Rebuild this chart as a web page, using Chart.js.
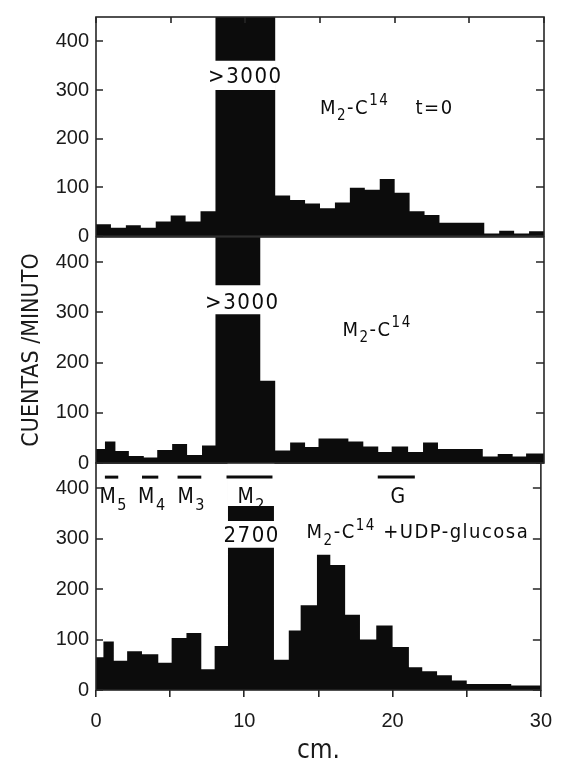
<!DOCTYPE html>
<html>
<head>
<meta charset="utf-8">
<script src="https://cdn.jsdelivr.net/npm/chart.js@4.4.1/dist/chart.umd.min.js"></script>
<style>
  body { margin: 0; background: #fff; }
  #wrap { position: relative; width: 566px; height: 767px; }
  #wrap canvas { position: absolute; left: 0; top: 0; }
</style>
</head>
<body>
<div id="wrap">
  <canvas id="t0" width="566" height="767"></canvas>
  <canvas id="m2" width="566" height="767"></canvas>
  <canvas id="udp" width="566" height="767"></canvas>
</div>
<script>
// axis ticks
const cmTicks = [0, 5, 10, 15, 20, 25, 30];
const countTicks = [0, 100, 200, 300, 400];

// M2-C14, t=0 : left edge of each slice (cm) and counts per minute
const edgesT0 = [0, 1, 2, 3, 4, 5, 6, 7, 8, 12, 13, 14, 15, 16, 17, 18, 19, 20, 21, 22, 23, 26, 27, 28, 29];
const countsT0 = [24, 17, 22, 17, 30, 42, 30, 51, 3000, 83, 74, 67, 57, 69, 99, 95, 117, 89, 51, 43, 27, 5, 11, 5, 10];

// M2-C14
const edgesM2 = [0, 0.6, 1.3, 2.2, 3.2, 4.1, 5.1, 6.1, 7.1, 8, 11, 12, 13, 14, 14.9, 16.9, 17.9, 18.9, 19.8, 20.9, 21.9, 22.9, 25.9, 26.9, 27.9, 28.8];
const countsM2 = [28, 43, 24, 14, 11, 26, 38, 16, 35, 3000, 164, 25, 41, 32, 49, 43, 33, 22, 33, 22, 41, 28, 13, 18, 13, 19];

// M2-C14 + UDP-glucosa
const edgesUdp = [0, 0.5, 1.2, 2.1, 3.1, 4.2, 5.1, 6.1, 7.1, 8, 8.9, 12, 13, 13.8, 14.9, 15.8, 16.8, 17.8, 18.9, 20, 21.1, 22, 23, 24, 25, 28];
const countsUdp = [65, 96, 58, 77, 71, 54, 103, 113, 41, 87, 2700, 60, 118, 168, 268, 248, 149, 100, 128, 85, 45, 37, 29, 19, 12, 9];

// axis breaks cut through the off-scale peaks: [fromCm, toCm, low, high]
const breaksT0 = [[8, 12, 300, 360]];
const breaksM2 = [[8, 11, 296, 354]];
const breaksUdp = [[8.9, 12, 282, 335], [8.9, 12, 365, 450]];

// reference markers above the last panel
const markerNames = ['M5', 'M4', 'M3', 'M2', 'G'];
const markerFrom = [0.6, 3.1, 5.5, 8.8, 19.0];
const markerTo = [1.5, 4.2, 7.1, 11.9, 21.5];
const markerLevel = 422;

const ink = '#0c0c0c';
const frameColor = '#262626';
const condensed = "'DejaVu Sans Condensed', 'Liberation Sans Narrow', sans-serif";
const tickFont = { family: "'Liberation Sans', Arial, sans-serif", size: 20, lineHeight: 1 };

function steps(edges, counts) {
  const pts = edges.map((e, i) => ({ x: e, y: counts[i] }));
  pts.push({ x: 30, y: counts[counts.length - 1] });
  return pts;
}

// parts: [text, 0 normal | -1 subscript | 1 superscript]
function drawRich(ctx, parts, x, y, size, align) {
  const small = Math.round(size * 0.74);
  ctx.letterSpacing = '1.5px';
  const fonts = parts.map(p => (p[1] === 0 ? size : small) + 'px ' + condensed);
  let total = 0;
  const widths = parts.map((p, i) => {
    ctx.font = fonts[i];
    const w = ctx.measureText(p[0]).width;
    total += w;
    return w;
  });
  let cx = align === 'center' ? x - total / 2 : x;
  ctx.textAlign = 'left';
  ctx.textBaseline = 'alphabetic';
  parts.forEach((p, i) => {
    ctx.font = fonts[i];
    const dy = p[1] === -1 ? size * 0.32 : p[1] === 1 ? -size * 0.42 : 0;
    ctx.fillText(p[0], cx, y + size * 0.36 + dy);
    cx += widths[i];
  });
  ctx.letterSpacing = '0px';
}

function decor(notes, topTicks) {
  return {
    id: 'decor',
    afterDatasetsDraw(chart) {
      const { ctx, chartArea: a, scales: { x, y } } = chart;
      ctx.save();
      ctx.fillStyle = ink;
      notes.forEach(n => drawRich(ctx, n.parts, x.getPixelForValue(n.x), y.getPixelForValue(n.y), n.size, n.align));
      ctx.strokeStyle = frameColor;
      ctx.lineWidth = 1.6;
      ctx.strokeRect(a.left, a.top, a.right - a.left, a.bottom - a.top);
      ctx.beginPath();
      countTicks.forEach(v => {
        const py = Math.round(y.getPixelForValue(v));
        ctx.moveTo(a.left, py); ctx.lineTo(a.left + 7, py);
        ctx.moveTo(a.right - 8, py); ctx.lineTo(a.right, py);
      });
      if (topTicks) {
        cmTicks.forEach(v => {
          const px = Math.round(x.getPixelForValue(v));
          ctx.moveTo(px, a.top); ctx.lineTo(px, a.top + 6);
        });
      }
      ctx.stroke();
      ctx.restore();
    }
  };
}

function panel(id, cfg) {
  const datasets = [{
    data: steps(cfg.edges, cfg.counts),
    stepped: true,
    fill: 'origin',
    backgroundColor: ink,
    borderColor: 'rgba(0,0,0,0)',
    borderWidth: 0,
    pointRadius: 0,
    order: 3
  }];
  cfg.breaks.forEach(b => datasets.push({
    data: [{ x: b[0] - 0.05, y: b[3] }, { x: b[1] + 0.05, y: b[3] }],
    fill: { value: b[2] },
    backgroundColor: '#fff',
    borderColor: 'rgba(0,0,0,0)',
    borderWidth: 0,
    pointRadius: 0,
    order: 2
  }));
  (cfg.markers || []).forEach(m => datasets.push({
    data: [{ x: m[0], y: markerLevel }, { x: m[1], y: markerLevel }],
    borderColor: ink,
    borderWidth: 3,
    fill: false,
    pointRadius: 0,
    order: 1
  }));

  const xAxis = {
    type: 'linear', min: 0, max: 30, display: !!cfg.bottomAxis,
    afterBuildTicks: s => { s.ticks = cmTicks.map(v => ({ value: v })); },
    grid: { drawOnChartArea: false, drawTicks: true, tickLength: 7, color: frameColor, lineWidth: 1.6 },
    border: { display: false },
    ticks: { padding: 14, maxRotation: 0, autoSkip: false, color: '#1a1a1a', font: tickFont,
             callback: v => (v % 10 === 0 ? v : '') },
    title: { display: true, text: 'cm.', color: '#1a1a1a', font: { family: condensed, size: 26 }, padding: { top: 0, bottom: 0 } }
  };
  if (cfg.bottomAxis) xAxis.afterFit = s => { s.height = 77; };

  return new Chart(document.getElementById(id), {
    type: 'line',
    data: { datasets },
    options: {
      responsive: false,
      animation: false,
      devicePixelRatio: 1,
      events: [],
      layout: { padding: { left: 18, right: 22, top: cfg.top, bottom: cfg.bottom } },
      plugins: { legend: { display: false }, tooltip: { enabled: false } },
      scales: {
        x: xAxis,
        y: {
          type: 'linear', min: 0, max: 450,
          afterBuildTicks: s => { s.ticks = countTicks.map(v => ({ value: v })); },
          afterFit: s => { s.width = 78; },
          grid: { display: false, drawTicks: false },
          border: { display: false },
          ticks: { padding: 7, color: '#1a1a1a', font: tickFont },
          title: {
            display: !!cfg.yTitle, text: 'CUENTAS /MINUTO', color: '#1a1a1a',
            font: { family: condensed, size: 23 }, padding: { top: 0, bottom: 0 }
          }
        }
      }
    },
    plugins: [decor(cfg.notes, cfg.topTicks)]
  });
}

const M2C14 = [['M', 0], ['2', -1], ['-C', 0], ['14', 1]];

panel('t0', {
  edges: edgesT0, counts: countsT0, breaks: breaksT0, top: 10, bottom: 531, topTicks: true,
  notes: [
    { x: 10, y: 330, parts: [['>3000', 0]], size: 22, align: 'center' },
    { x: 15.0, y: 266, parts: M2C14, size: 20, align: 'left' },
    { x: 21.4, y: 266, parts: [['t=0', 0]], size: 20, align: 'left' }
  ]
});

panel('m2', {
  edges: edgesM2, counts: countsM2, breaks: breaksM2, top: 237, bottom: 304, yTitle: true,
  notes: [
    { x: 9.8, y: 322, parts: [['>3000', 0]], size: 22, align: 'center' },
    { x: 16.5, y: 268, parts: M2C14, size: 20, align: 'left' }
  ]
});

panel('udp', {
  edges: edgesUdp, counts: countsUdp, breaks: breaksUdp, top: 463, bottom: 0, bottomAxis: true,
  markers: markerNames.map((n, i) => [markerFrom[i], markerTo[i]]),
  notes: [
    { x: 10.5, y: 309, parts: [['2700', 0]], size: 22, align: 'center' },
    { x: 14.2, y: 315, parts: M2C14.concat([[' +UDP-glucosa', 0]]), size: 20, align: 'left' }
  ].concat(markerNames.map((n, i) => ({
    x: (markerFrom[i] + markerTo[i]) / 2 + 0.15, y: 385,
    parts: n.length > 1 ? [[n[0], 0], [n.slice(1), -1]] : [[n, 0]],
    size: 21, align: 'center'
  })))
});
</script>
</body>
</html>
